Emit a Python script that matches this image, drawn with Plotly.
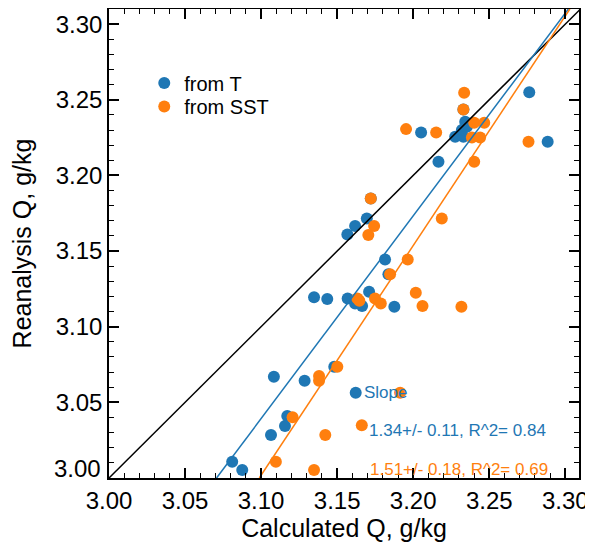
import plotly.graph_objects as go

# scatter points (Calculated Q vs Reanalysis Q, g/kg)
t_calc = [3.2763, 3.2884, 3.2052, 3.2342, 3.2276, 3.2330, 3.2320, 3.2353,
          3.2330, 3.2166, 3.1721, 3.1695, 3.1618, 3.1567, 3.1815, 3.1837,
          3.1710, 3.1348, 3.1435, 3.1569, 3.1618, 3.1664, 3.1876, 3.1084,
          3.1286, 3.1481, 3.1622, 3.1172, 3.1157, 3.1065, 3.0810, 3.0876]
t_rean = [3.2549, 3.2222, 3.2284, 3.2354, 3.2255, 3.2255, 3.2300, 3.2321,
          3.2436, 3.2090, 3.1848, 3.1716, 3.1665, 3.1610, 3.1445, 3.1346,
          3.1231, 3.1194, 3.1183, 3.1187, 3.1154, 3.1137, 3.1132, 3.0669,
          3.0643, 3.0735, 3.0564, 3.0410, 3.0344, 3.0284, 3.0108, 3.0053]

sst_calc = [3.2335, 3.2330, 3.2758, 3.1953, 3.2151, 3.2401, 3.2467, 3.2386,
            3.2440, 3.2401, 3.1721, 3.1743, 3.1705, 3.2188, 3.1964, 3.1848,
            3.2017, 3.1633, 3.1646, 3.1749, 3.1787, 3.2061, 3.2317, 3.1381,
            3.1381, 3.1501, 3.1914, 3.1207, 3.1422, 3.1662, 3.1097, 3.1348]
sst_rean = [3.2546, 3.2436, 3.2222, 3.2306, 3.2284, 3.2348, 3.2348, 3.2251,
            3.2251, 3.2090, 3.1848, 3.1665, 3.1606, 3.1716, 3.1445, 3.1346,
            3.1224, 3.1187, 3.1172, 3.1187, 3.1154, 3.1137, 3.1132, 3.0674,
            3.0643, 3.0735, 3.0564, 3.0401, 3.0284, 3.0348, 3.0108, 3.0053]

# fitted lines (end points) and the 1:1 line
fit_t_x = [3.0707, 3.3020]
fit_t_y = [3.0000, 3.3100]
fit_sst_x = [3.0988, 3.3030]
fit_sst_y = [3.0000, 3.3100]
one_to_one = [3.0000, 3.3100]

tick_vals = [3.00, 3.05, 3.10, 3.15, 3.20, 3.25, 3.30]
x_tick_text = ["3.00", "3.05", "3.10", "3.15", "3.20", "3.25", "3.30"]
y_tick_text = ["", "3.05", "3.10", "3.15", "3.20", "3.25", "3.30"]

BLUE = "#1f77b4"
ORANGE = "#ff7f0e"
FONT = "Liberation Sans, Arial, sans-serif"

fig = go.Figure()
fig.add_trace(go.Scatter(x=t_calc, y=t_rean, mode="markers", name="from T", legend="legend",
                         marker=dict(color=BLUE, size=12)))
fig.add_trace(go.Scatter(x=sst_calc, y=sst_rean, mode="markers", name="from SST", legend="legend2",
                         marker=dict(color=ORANGE, size=12)))
fig.add_trace(go.Scatter(x=one_to_one, y=one_to_one, mode="lines", showlegend=False,
                         line=dict(color="black", width=1.5)))
fig.add_trace(go.Scatter(x=fit_t_x, y=fit_t_y, mode="lines", showlegend=False,
                         line=dict(color=BLUE, width=1.5)))
fig.add_trace(go.Scatter(x=fit_sst_x, y=fit_sst_y, mode="lines", showlegend=False,
                         line=dict(color=ORANGE, width=1.5)))

fig.add_annotation(x=3.1664, y=3.0564, text="Slope", showarrow=False, xanchor="left",
                   font=dict(color=BLUE, size=17, family=FONT))
fig.add_annotation(x=3.1697, y=3.0317, text="1.34+/- 0.11, R^2= 0.84", showarrow=False,
                   xanchor="left", font=dict(color=BLUE, size=17, family=FONT))
fig.add_annotation(x=3.1703, y=3.0059, text="1.51+/- 0.18, R^2= 0.69", showarrow=False,
                   xanchor="left", font=dict(color=ORANGE, size=17, family=FONT))
# bottom y label sits a little above its tick in the original
fig.add_annotation(xref="paper", x=0, y=3.0, yshift=10, xshift=-6, text="3.00",
                   showarrow=False, xanchor="right", font=dict(size=24, family=FONT, color="black"))

axis_common = dict(
    tickvals=tick_vals, ticks="inside", ticklen=10, tickwidth=1.5, tickcolor="black",
    showline=True, linecolor="black", linewidth=1.5, mirror="allticks",
    showgrid=False, zeroline=False, automargin=False,
    tickfont=dict(size=24, family=FONT, color="black"),
    minor=dict(dtick=0.01, ticks="inside", ticklen=5, tickwidth=1.2, tickcolor="black"),
)

fig.update_xaxes(range=[3.0, 3.309], ticktext=x_tick_text,
                 title=dict(text="Calculated Q, g/kg", font=dict(size=25, family=FONT, color="black"),
                            standoff=7),
                 **axis_common)
fig.update_yaxes(range=[3.0, 3.31], ticktext=y_tick_text,
                 title=dict(text="Reanalysis Q, g/kg", font=dict(size=25, family=FONT, color="black"),
                            standoff=21),
                 **axis_common)

legend_style = dict(xanchor="left", yanchor="middle", bgcolor="rgba(0,0,0,0)",
                    font=dict(size=20, family=FONT, color="black"), itemsizing="constant")

# page body adds an 8px offset, so the figure is drawn 8px smaller
fig.update_layout(
    width=585, height=542,
    margin=dict(l=101, r=14, t=1, b=72),
    plot_bgcolor="white", paper_bgcolor="white",
    font=dict(family=FONT, color="black"),
    legend=dict(x=0.075, y=0.842, **legend_style),
    legend2=dict(x=0.075, y=0.792, **legend_style),
)

fig.write_html("out.html")
